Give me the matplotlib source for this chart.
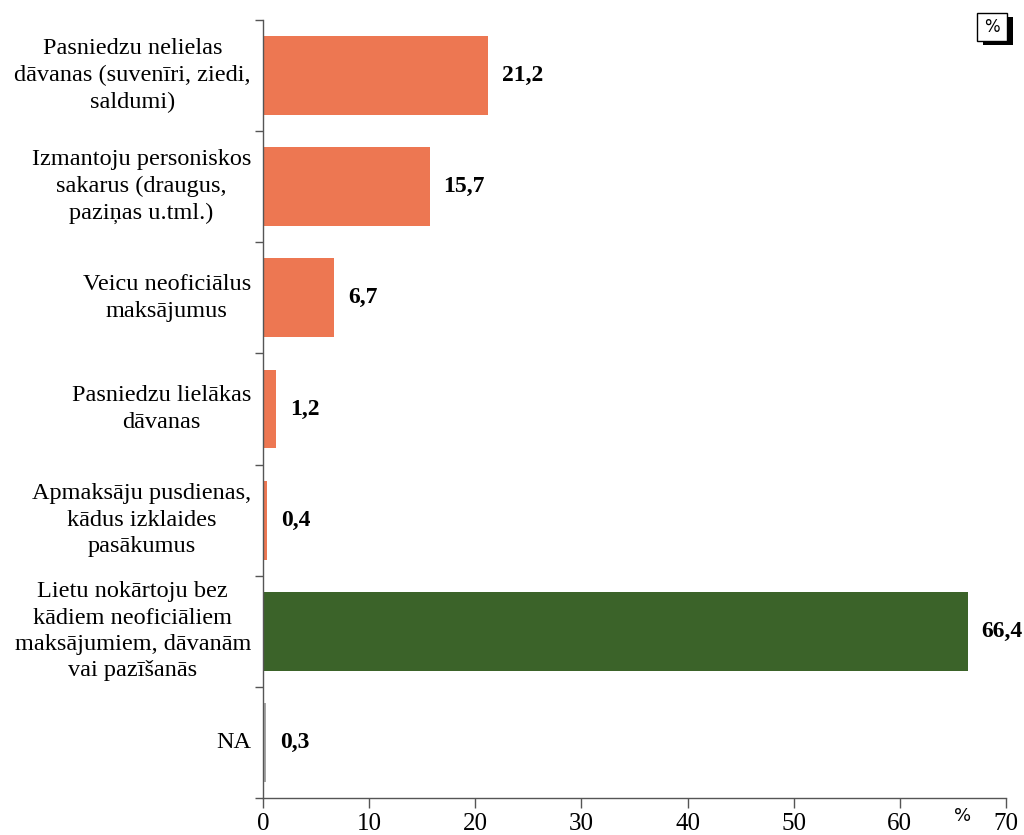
import matplotlib.pyplot as plt
from matplotlib.patches import Rectangle

categories = [
    "Pasniedzu nelielas\ndāvanas (suvenīri, ziedi,\nsaldumi)",
    "Izmantoju personiskos\nsakarus (draugus,\npaziņas u.tml.)",
    "Veicu neoficiālus\nmaksājumus",
    "Pasniedzu lielākas\ndāvanas",
    "Apmaksāju pusdienas,\nkādus izklaides\npasākumus",
    "Lietu nokārtoju bez\nkādiem neoficiāliem\nmaksājumiem, dāvanām\nvai pazīšanās",
    "NA",
]
values = [21.2, 15.7, 6.7, 1.2, 0.4, 66.4, 0.3]
value_labels = ["21,2", "15,7", "6,7", "1,2", "0,4", "66,4", "0,3"]
bar_colors = ["#ED7752"] * 5 + ["#3B6329", "#A6A6A6"]
x_ticks = [0, 10, 20, 30, 40, 50, 60, 70]

plt.rcParams['font.family'] = ['Liberation Serif', 'DejaVu Serif']
W, H = 1024, 835

fig = plt.figure(figsize=(W / 100, H / 100), dpi=100)
ax = fig.add_axes([263 / W, 1 - 798 / H, (1006 - 263) / W, (798 - 20) / H])

pos = list(range(len(categories)))
ax.barh(pos, values, height=0.71, color=bar_colors)
ax.set_ylim(len(categories) - 0.5, -0.5)
ax.set_xlim(0, 70)

for p, v, lab in zip(pos, values, value_labels):
    ax.annotate(lab, (v, p), xytext=(10, 0), textcoords='offset points',
                ha='left', va='center', fontsize=17, fontweight='bold')

# category ticks sit on the boundaries between bars
ax.set_yticks([i - 0.5 for i in range(len(categories) + 1)])
ax.set_yticklabels([])
ax.tick_params(axis='y', length=6, width=1, color='#555555', direction='out')
for p, c in zip(pos, categories):
    ax.annotate(c, (0, p), xycoords=('axes fraction', 'data'),
                xytext=(-12, 0), textcoords='offset pixels',
                ha='right', va='center', multialignment='center',
                fontsize=17.5, linespacing=1.34)

ax.set_xticks(x_ticks)
ax.set_xticklabels([str(t) for t in x_ticks], fontsize=18)
ax.tick_params(axis='x', length=7, width=1, color='#555555', direction='out', pad=4)

for s in ['top', 'right']:
    ax.spines[s].set_visible(False)
for s in ['left', 'bottom']:
    ax.spines[s].set_color('#555555')
    ax.spines[s].set_linewidth(1)

# unit labels
fig.text(963 / W, 1 - 816 / H, "%", ha='center', va='center', fontsize=13,
         family='DejaVu Sans')

shadow = Rectangle((983 / W, 1 - 45 / H), 30 / W, 28 / H, transform=fig.transFigure,
                   facecolor='black', edgecolor='black', linewidth=0)
box = Rectangle((977 / W, 1 - 41 / H), 30 / W, 28 / H, transform=fig.transFigure,
                facecolor='white', edgecolor='black', linewidth=1)
fig.patches.extend([shadow, box])
fig.text(992 / W, 1 - 27 / H, "%", ha='center', va='center', fontsize=12,
         family='DejaVu Sans')

fig.savefig('out.png', dpi=100)
